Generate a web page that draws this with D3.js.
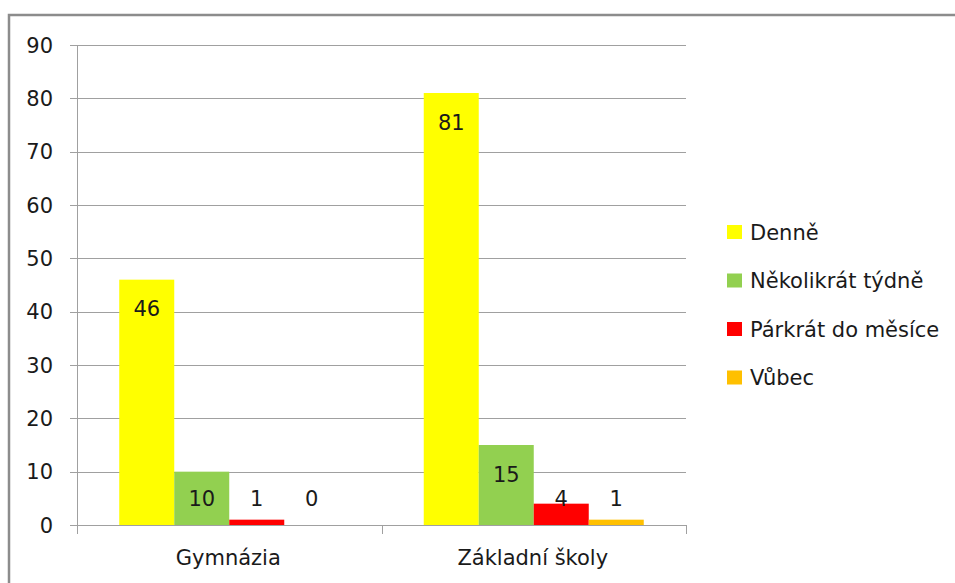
<!DOCTYPE html>
<html>
<head>
<meta charset="utf-8">
<script src="https://cdn.jsdelivr.net/npm/d3@7/dist/d3.min.js"></script>
<style>
  body { margin: 0; background: #fff; }
  svg text { font-family: "DejaVu Sans", "Open Sans", sans-serif; fill: #1a1a1a; }
</style>
</head>
<body>
<script>
var categories = ["Gymnázia", "Základní školy"];
var series = ["Denně", "Několikrát týdně", "Párkrát do měsíce", "Vůbec"];
var colors = ["#FFFF00", "#92D050", "#FF0000", "#FFC000"];
// values[series][category]
var values = [
  [46, 81],
  [10, 15],
  [1, 4],
  [0, 1]
];
var yTicks = [0, 10, 20, 30, 40, 50, 60, 70, 80, 90];

var W = 955, H = 583;
var plotL = 77, plotR = 686, plotT = 45, plotB = 525;
var fs = "21px";

var svg = d3.select("body").append("svg")
    .attr("width", W)
    .attr("height", H);

// outer frame
svg.append("rect")
    .attr("x", 9).attr("y", 15)
    .attr("width", W + 20).attr("height", H + 20)
    .attr("fill", "none")
    .attr("stroke", "#8c8c8c")
    .attr("stroke-width", 2.5);

var y = d3.scaleLinear().domain([0, 90]).range([plotB, plotT]);
var x0 = d3.scaleBand().domain(categories).range([plotL, plotR]);
var x1 = d3.scaleBand().domain(series).range([0, x0.bandwidth()]).paddingOuter(0.768);

// gridlines
svg.append("g").selectAll("line").data(yTicks).enter().append("line")
    .attr("x1", plotL - 7).attr("x2", plotR)
    .attr("y1", function (d) { return Math.round(y(d)) + 0.5; })
    .attr("y2", function (d) { return Math.round(y(d)) + 0.5; })
    .attr("stroke", "#a0a0a0")
    .attr("stroke-width", 1);

// y axis line
svg.append("line")
    .attr("x1", plotL + 0.5).attr("x2", plotL + 0.5)
    .attr("y1", plotT).attr("y2", plotB)
    .attr("stroke", "#a0a0a0");

// y labels
svg.append("g").selectAll("text").data(yTicks).enter().append("text")
    .attr("x", 53)
    .attr("y", function (d) { return y(d); })
    .attr("dy", "0.36em")
    .attr("text-anchor", "end")
    .style("font-size", fs)
    .text(function (d) { return d; });

// category ticks
var catEdges = [plotL].concat(categories.map(function (c) { return x0(c) + x0.bandwidth(); }));
svg.append("g").selectAll("line").data(catEdges).enter().append("line")
    .attr("x1", function (d) { return Math.round(d) + 0.5; })
    .attr("x2", function (d) { return Math.round(d) + 0.5; })
    .attr("y1", plotB).attr("y2", plotB + 9)
    .attr("stroke", "#a0a0a0");

// category labels
svg.append("g").selectAll("text").data(categories).enter().append("text")
    .attr("x", function (c) { return x0(c) + x0.bandwidth() / 2 - 1; })
    .attr("y", 557)
    .attr("dy", "0.36em")
    .attr("text-anchor", "middle")
    .style("font-size", fs)
    .text(function (c) { return c; });

// bars
var barData = [];
series.forEach(function (s, si) {
  categories.forEach(function (c, ci) {
    barData.push({ s: s, si: si, c: c, v: values[si][ci] });
  });
});

svg.append("g").selectAll("rect").data(barData).enter().append("rect")
    .attr("x", function (d) { return x0(d.c) + x1(d.s); })
    .attr("y", function (d) { return y(d.v); })
    .attr("width", x1.bandwidth())
    .attr("height", function (d) { return y(0) - y(d.v); })
    .attr("fill", function (d) { return colors[d.si]; });

// value labels
svg.append("g").selectAll("text").data(barData).enter().append("text")
    .attr("x", function (d) { return x0(d.c) + x1(d.s) + x1.bandwidth() / 2; })
    .attr("y", function (d) { return Math.min(y(d.v) + 29, 498); })
    .attr("dy", "0.36em")
    .attr("text-anchor", "middle")
    .style("font-size", fs)
    .text(function (d) { return d.v; });

// legend
var leg = svg.append("g").selectAll("g").data(series).enter().append("g")
    .attr("transform", function (d, i) { return "translate(727," + (232 + i * 48.5) + ")"; });
leg.append("rect")
    .attr("x", 0).attr("y", -7)
    .attr("width", 15).attr("height", 14)
    .attr("fill", function (d, i) { return colors[i]; });
leg.append("text")
    .attr("x", 23).attr("y", 0)
    .attr("dy", "0.36em")
    .style("font-size", fs)
    .text(function (d) { return d; });
</script>
</body>
</html>
